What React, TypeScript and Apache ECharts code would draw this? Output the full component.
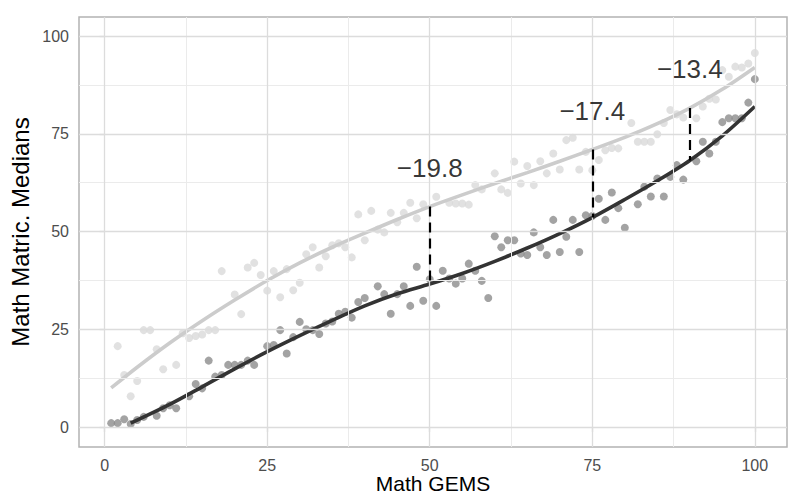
import { useEffect, useRef } from "react";
import * as echarts from "echarts";

// ---------- data ----------
const xTicks = [0, 25, 50, 75, 100];
const yTicks = [0, 25, 50, 75, 100];
const majorGrid = [0, 25, 50, 75, 100];
const minorGrid = [12.5, 37.5, 62.5, 87.5];

const lightX = [2, 3, 4, 5, 6, 7, 8, 9, 11, 12, 13, 14, 15, 16, 17, 18, 20, 21, 22, 23, 24, 25, 26, 27, 28, 29, 30, 31, 32, 33, 34, 35, 36, 37, 38, 39, 40, 41, 42, 43, 44, 45, 46, 47, 48, 49, 51, 53, 54, 55, 56, 57, 58, 60, 61, 62, 63, 64, 65, 66, 67, 68, 69, 70, 71, 72, 73, 74, 75, 76, 77, 78, 79, 81, 82, 83, 84, 85, 86, 87, 88, 89, 91, 92, 93, 94, 95, 96, 97, 98, 99, 100];
const lightY = [20.7, 13.3, 7.9, 11.8, 24.8, 24.8, 19.9, 14.8, 15.9, 24, 22.8, 23.3, 23.7, 24.8, 24.8, 39.9, 33.9, 28.9, 40.8, 42, 38.9, 34.9, 39.9, 33.2, 40.4, 35, 36.9, 44.2, 46, 40.8, 43.7, 46.5, 47, 46, 43.4, 54.4, 47.8, 55.3, 50.5, 49.8, 54.8, 52.4, 54.8, 57.4, 53.4, 57, 58.9, 57.4, 57.2, 57.2, 56.9, 61.9, 60.8, 64.9, 60.8, 59.9, 67.9, 62.3, 66.8, 61.9, 68, 64.9, 70, 65.9, 73.4, 74, 65.9, 70.4, 65.7, 68.3, 70.8, 71.4, 71.3, 77.8, 73, 73, 73, 74.9, 77.8, 81.1, 80, 79.2, 79, 82, 84, 83.8, 91.3, 89.6, 92.2, 92, 93, 95.7];

const darkX = [1, 2, 3, 4, 5, 6, 8, 9, 10, 11, 13, 14, 15, 16, 17, 18, 19, 20, 21, 22, 23, 25, 26, 27, 28, 29, 30, 31, 32, 33, 34, 35, 36, 37, 38, 39, 40, 42, 43, 44, 45, 46, 47, 48, 49, 50, 51, 52, 53, 54, 55, 56, 57, 58, 59, 60, 61, 62, 63, 64, 65, 66, 67, 68, 69, 70, 71, 72, 73, 74, 75, 76, 77, 78, 79, 80, 82, 83, 84, 85, 86, 87, 88, 89, 91, 92, 93, 94, 95, 96, 97, 98, 99, 100];
const darkY = [1, 1, 2, 0.8, 1.8, 2.6, 2.9, 4.8, 5.6, 4.8, 7.9, 11, 9.9, 17, 12.9, 13.3, 15.9, 15.9, 15.9, 17, 15.9, 20.7, 21, 24.8, 18.8, 23, 26.9, 25, 24.8, 23.8, 26.5, 27, 29, 29.5, 28, 32, 33, 36, 34, 29, 34, 36, 31, 41, 32.3, 37.8, 31, 40, 38, 36.7, 38, 41.8, 40, 37.4, 33, 48.8, 46, 47.8, 47.8, 44.4, 44, 49.8, 46, 44, 53, 44.8, 48.7, 53, 44.8, 54.2, 54, 58.4, 53, 60, 56, 51, 57, 61.5, 59, 63.6, 59, 64, 67, 63.3, 68, 73, 70, 73, 78, 79, 79, 79, 83, 89];

const lightFitX = [1, 5, 10, 15, 20, 25, 30, 35, 40, 45, 50, 55, 60, 65, 70, 75, 80, 85, 90, 95, 100];
const lightFitY = [10, 15.3, 21.5, 27.2, 32.5, 37.5, 42, 46, 49.6, 53.1, 56.4, 59.4, 62.3, 65.1, 68, 71, 74.1, 77.6, 81.6, 86.4, 92];
const darkFitX = [4, 10, 15, 20, 25, 30, 35, 40, 45, 50, 55, 60, 65, 70, 75, 80, 85, 90, 95, 100];
const darkFitY = [1, 5.8, 10.3, 14.9, 19.3, 23.4, 27.3, 31.0, 34.1, 36.6, 39.3, 42.4, 45.8, 49.5, 53.6, 58.2, 63, 68.2, 74.5, 82];

const gapX = [50, 75, 90];
const gapLabels = ["\u221219.8", "\u221217.4", "\u221213.4"];

// ---------- helpers ----------
const pairs = (xs: number[], ys: number[]) => xs.map((x, i) => [x, ys[i]]);
const fitAt = (xs: number[], ys: number[], x: number) => ys[xs.indexOf(x)];

const FONT = "'Liberation Sans', Arial, sans-serif";

export default function App() {
  const ref = useRef<HTMLDivElement>(null);
  useEffect(() => {
    document.body.style.margin = "0";
    const chart = echarts.init(ref.current!, null, { renderer: "svg" });

    const gridLines = [
      ...minorGrid.map((v) => ({ xAxis: v, lineStyle: { color: "#ebebeb", width: 1, type: "solid" } })),
      ...minorGrid.map((v) => ({ yAxis: v, lineStyle: { color: "#ebebeb", width: 1, type: "solid" } })),
      ...majorGrid.map((v) => ({ xAxis: v, lineStyle: { color: "#dcdcdc", width: 1.3, type: "solid" } })),
      ...majorGrid.map((v) => ({ yAxis: v, lineStyle: { color: "#dcdcdc", width: 1.3, type: "solid" } })),
    ];

    const segs = gapX.map((x) => [
      { coord: [x, fitAt(lightFitX, lightFitY, x)] },
      { coord: [x, fitAt(darkFitX, darkFitY, x)] },
    ]);

    const option: any = {
      animation: false,
      backgroundColor: "#ffffff",
      textStyle: { fontFamily: FONT },
      grid: {
        left: 79,
        right: 10,
        top: 17,
        bottom: 49,
        outerBoundsMode: "none",
        containLabel: false,
        show: true,
        borderColor: "#b3b3b3",
        borderWidth: 1.5,
        backgroundColor: "transparent",
      },
      xAxis: {
        type: "value",
        min: -3.95,
        max: 104.95,
        name: "Math GEMS",
        nameLocation: "middle",
        nameGap: 26,
        nameMoveOverlap: false,
        nameTextStyle: { color: "#000", fontSize: 21, lineHeight: 21, fontFamily: FONT },
        axisLine: { show: false },
        axisTick: { show: true, customValues: xTicks, length: 5, lineStyle: { color: "#b3b3b3", width: 1.2 } },
        axisLabel: { customValues: xTicks, color: "#4d4d4d", fontSize: 16, margin: 10, fontFamily: FONT },
        splitLine: { show: false },
      },
      yAxis: {
        type: "value",
        min: -5.1,
        max: 104.9,
        name: "Math Matric. Medians",
        nameLocation: "middle",
        nameRotate: 90,
        nameGap: 47,
        nameMoveOverlap: false,
        nameTextStyle: { color: "#000", fontSize: 24, fontFamily: FONT },
        axisLine: { show: false },
        axisTick: { show: true, customValues: yTicks, length: 5, lineStyle: { color: "#b3b3b3", width: 1.2 } },
        axisLabel: { customValues: yTicks, color: "#4d4d4d", fontSize: 16, margin: 10, fontFamily: FONT },
        splitLine: { show: false },
      },
      series: [
        {
          type: "scatter",
          data: [],
          z: 1,
          silent: true,
          markLine: {
            silent: true,
            symbol: ["none", "none"],
            label: { show: false },
            data: gridLines,
          },
        },
        {
          type: "scatter",
          data: pairs(lightX, lightY),
          symbolSize: 8,
          itemStyle: { color: "#dadada" },
          z: 2,
          silent: true,
        },
        {
          type: "scatter",
          data: pairs(darkX, darkY),
          symbolSize: 8,
          itemStyle: { color: "#8c8c8c" },
          z: 2,
          silent: true,
        },
        {
          type: "line",
          data: pairs(lightFitX, lightFitY),
          smooth: 0.3,
          showSymbol: false,
          lineStyle: { color: "#cccccc", width: 3.6 },
          z: 3,
          silent: true,
        },
        {
          type: "line",
          data: pairs(darkFitX, darkFitY),
          smooth: 0.3,
          showSymbol: false,
          lineStyle: { color: "#333333", width: 3.6 },
          z: 3,
          silent: true,
          markLine: {
            silent: true,
            symbol: ["none", "none"],
            label: { show: false },
            lineStyle: { color: "#000000", width: 2.2, type: [10, 6] },
            data: segs,
          },
        },
        {
          type: "scatter",
          data: gapX.map((x) => [x, fitAt(lightFitX, lightFitY, x)]),
          symbolSize: 0,
          z: 5,
          silent: true,
          label: {
            show: true,
            position: "top",
            distance: 26,
            fontSize: 26,
            color: "#000000",
            fontFamily: FONT,
            formatter: (p: any) => gapLabels[p.dataIndex],
          },
        },
      ],
    };

    chart.setOption(option);
    return () => chart.dispose();
  }, []);
  return <div ref={ref} style={{ width: 797, height: 496 }} />;
}
